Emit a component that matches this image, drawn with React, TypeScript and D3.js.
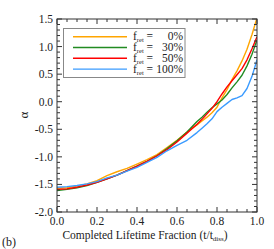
import React, { useRef, useEffect } from 'react';
import * as d3 from 'd3';

const W = 274;
const H = 249;
const MARGIN = { top: 19, right: 17, bottom: 37, left: 57 };

const tFrac = [0, 0.05, 0.1, 0.15, 0.2, 0.25, 0.3, 0.35, 0.4, 0.45, 0.5, 0.55, 0.6, 0.65, 0.7,
  0.725, 0.75, 0.775, 0.8, 0.825, 0.85, 0.875, 0.9, 0.925, 0.95, 0.975, 1.0];

const alpha0 = [-1.57, -1.56, -1.53, -1.49, -1.43, -1.34, -1.27, -1.21, -1.13, -1.05, -0.96, -0.83, -0.70, -0.55, -0.42,
  -0.35, -0.28, -0.20, -0.10, 0.07, 0.22, 0.40, 0.56, 0.74, 0.95, 1.22, 1.52];
const alpha30 = [-1.61, -1.59, -1.56, -1.52, -1.46, -1.40, -1.33, -1.25, -1.17, -1.08, -0.98, -0.85, -0.71, -0.55, -0.36,
  -0.28, -0.19, -0.11, -0.04, 0.03, 0.13, 0.25, 0.36, 0.48, 0.65, 0.86, 1.12];
const alpha50 = [-1.59, -1.58, -1.55, -1.51, -1.46, -1.40, -1.33, -1.25, -1.17, -1.08, -0.98, -0.87, -0.73, -0.57, -0.41,
  -0.32, -0.22, -0.12, 0.0, 0.14, 0.27, 0.38, 0.49, 0.60, 0.76, 0.96, 1.18];
const alpha100 = [-1.55, -1.54, -1.52, -1.49, -1.45, -1.38, -1.33, -1.26, -1.19, -1.10, -1.01, -0.89, -0.79, -0.70, -0.56,
  -0.48, -0.40, -0.31, -0.18, -0.10, -0.03, 0.04, 0.07, 0.11, 0.24, 0.46, 0.76];

const seriesNames = ['0%', '30%', '50%', '100%'];
const seriesColors = ['#FFA500', '#228B22', '#FF0000', '#3A9BFF'];
const seriesValues = [alpha0, alpha30, alpha50, alpha100];

const xTicks = [0, 0.2, 0.4, 0.6, 0.8, 1.0];
const yTicks = [-2.0, -1.5, -1.0, -0.5, 0.0, 0.5, 1.0, 1.5];

const FONT = "'Liberation Serif', 'Times New Roman', 'DejaVu Serif', serif";

export default function App() {
  const svgRef = useRef<SVGSVGElement>(null);

  useEffect(() => {
    if (!svgRef.current) return;
    const innerW = W - MARGIN.left - MARGIN.right;
    const innerH = H - MARGIN.top - MARGIN.bottom;

    const x = d3.scaleLinear().domain([0, 1]).range([0, innerW]);
    const y = d3.scaleLinear().domain([-2, 1.5]).range([innerH, 0]);

    const svg = d3.select(svgRef.current).style('font-family', FONT);
    svg.selectAll('*').remove();
    const g = svg.append('g').attr('transform', `translate(${MARGIN.left},${MARGIN.top})`);

    svg.append('defs').append('clipPath').attr('id', 'plotclip')
      .append('rect').attr('x', 0).attr('y', 0).attr('width', innerW).attr('height', innerH);

    // Curves
    const line = d3.line<number>()
      .x((_, i) => x(tFrac[i]))
      .y(d => y(d));

    const curves = g.append('g').attr('clip-path', 'url(#plotclip)');
    seriesValues.forEach((vals, k) => {
      curves.append('path')
        .datum(vals)
        .attr('d', line)
        .attr('fill', 'none')
        .attr('stroke', seriesColors[k])
        .attr('stroke-width', 1.4)
        .attr('stroke-linejoin', 'round');
    });

    // Box + ticks
    const axisColor = '#333';
    g.append('rect')
      .attr('width', innerW).attr('height', innerH)
      .attr('fill', 'none').attr('stroke', axisColor).attr('stroke-width', 1);

    const xMinor = d3.range(0, 1.0001, 0.05);
    const yMinor = d3.range(-2, 1.5001, 0.1);
    const isMajorX = (v: number) => Math.abs(v / 0.2 - Math.round(v / 0.2)) < 1e-6;
    const isMajorY = (v: number) => Math.abs(v / 0.5 - Math.round(v / 0.5)) < 1e-6;

    const ticks = g.append('g').attr('stroke', axisColor).attr('stroke-width', 1);
    xMinor.forEach(v => {
      const len = isMajorX(v) ? 5 : 3;
      const px = x(v);
      ticks.append('line').attr('x1', px).attr('x2', px).attr('y1', innerH).attr('y2', innerH - len);
      ticks.append('line').attr('x1', px).attr('x2', px).attr('y1', 0).attr('y2', len);
    });
    yMinor.forEach(v => {
      const len = isMajorY(v) ? 5 : 3;
      const py = y(v);
      ticks.append('line').attr('x1', 0).attr('x2', len).attr('y1', py).attr('y2', py);
      ticks.append('line').attr('x1', innerW).attr('x2', innerW - len).attr('y1', py).attr('y2', py);
    });

    // Tick labels
    g.append('g').selectAll('text').data(xTicks).join('text')
      .attr('x', d => x(d)).attr('y', innerH + 13)
      .attr('text-anchor', 'middle')
      .style('font-family', FONT).attr('font-size', 11.5).attr('fill', '#222')
      .text(d => d.toFixed(1));

    g.append('g').selectAll('text').data(yTicks).join('text')
      .attr('x', -4).attr('y', d => y(d) + 4)
      .attr('text-anchor', 'end')
      .style('font-family', FONT).attr('font-size', 11.5).attr('fill', '#222')
      .text(d => d.toFixed(1));

    // Axis titles
    const xt = svg.append('text')
      .attr('x', 145).attr('y', 238.5)
      .attr('text-anchor', 'middle')
      .style('font-family', FONT).attr('font-size', 11.5).attr('fill', '#222');
    xt.append('tspan').text('Completed Lifetime Fraction (t/t');
    xt.append('tspan').attr('font-size', 7).attr('dy', 2.5).text('diss');
    xt.append('tspan').attr('dy', -2.5).text(')');

    svg.append('text')
      .attr('transform', 'translate(28,115) rotate(-90)')
      .attr('text-anchor', 'middle')
      .style('font-family', FONT).attr('font-size', 13).attr('fill', '#222')
      .text('α');

    svg.append('text')
      .attr('x', 2).attr('y', 246)
      .style('font-family', FONT).attr('font-size', 12).attr('fill', '#222')
      .text('(b)');

    // Legend
    const lg = svg.append('g');
    lg.append('rect')
      .attr('x', 63.5).attr('y', 28.5).attr('width', 121.5).attr('height', 49)
      .attr('fill', 'white').attr('stroke', '#888').attr('stroke-width', 1);
    seriesNames.forEach((name, k) => {
      const ly = 36.7 + k * 10.8;
      lg.append('line')
        .attr('x1', 73).attr('x2', 127).attr('y1', ly).attr('y2', ly)
        .attr('stroke', seriesColors[k]).attr('stroke-width', 1.4);
      const t = lg.append('text')
        .attr('x', 133).attr('y', ly + 3.5)
        .style('font-family', FONT).attr('font-size', 11.5).attr('fill', '#222');
      t.append('tspan').text('f');
      t.append('tspan').attr('font-size', 6.5).attr('dy', 2).text('ret');
      t.append('tspan').attr('dy', -2).text(' =');
      lg.append('text')
        .attr('x', 183).attr('y', ly + 3.5)
        .attr('text-anchor', 'end')
        .style('font-family', FONT).attr('font-size', 11.5).attr('fill', '#222')
        .text(name);
    });
  }, []);

  return (
    <div style={{ position: 'absolute', left: 0, top: 0, width: W, height: H, background: 'white' }}>
      <svg ref={svgRef} width={W} height={H} />
    </div>
  );
}
